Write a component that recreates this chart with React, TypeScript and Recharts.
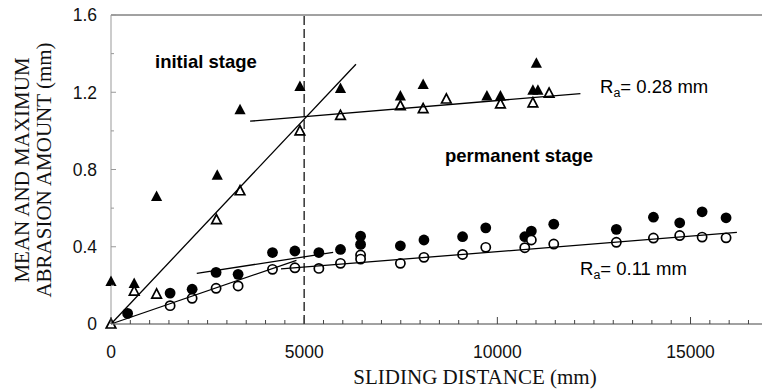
import { ComposedChart, Scatter, XAxis, YAxis, ReferenceLine } from 'recharts';

// filled triangles: maximum abrasion, Ra = 0.28 mm
const maxRough = [
  { x: 0, y: 0.22 }, { x: 600, y: 0.21 }, { x: 1180, y: 0.66 }, { x: 2750, y: 0.77 },
  { x: 3340, y: 1.11 }, { x: 4890, y: 1.23 }, { x: 5940, y: 1.22 }, { x: 7490, y: 1.18 },
  { x: 8080, y: 1.24 }, { x: 9730, y: 1.18 }, { x: 10080, y: 1.18 }, { x: 10920, y: 1.21 },
  { x: 11050, y: 1.21 }, { x: 11010, y: 1.35 },
];

// open triangles: mean abrasion, Ra = 0.28 mm
const meanRough = [
  { x: 0, y: 0 }, { x: 600, y: 0.17 }, { x: 1180, y: 0.155 }, { x: 2730, y: 0.54 },
  { x: 3340, y: 0.69 }, { x: 4890, y: 1.0 }, { x: 5940, y: 1.08 }, { x: 7490, y: 1.13 },
  { x: 8080, y: 1.115 }, { x: 8680, y: 1.165 }, { x: 10080, y: 1.14 }, { x: 10920, y: 1.145 },
  { x: 11340, y: 1.195 },
];

// filled circles: maximum abrasion, Ra = 0.11 mm
const maxSmooth = [
  { x: 430, y: 0.055 }, { x: 1530, y: 0.16 }, { x: 2100, y: 0.18 }, { x: 2720, y: 0.267 },
  { x: 3290, y: 0.257 }, { x: 4180, y: 0.37 }, { x: 4760, y: 0.378 }, { x: 5380, y: 0.37 },
  { x: 5940, y: 0.386 }, { x: 6460, y: 0.455 }, { x: 6460, y: 0.412 }, { x: 7490, y: 0.405 },
  { x: 8100, y: 0.435 }, { x: 9100, y: 0.452 }, { x: 9700, y: 0.498 }, { x: 10710, y: 0.452 },
  { x: 10880, y: 0.481 }, { x: 11460, y: 0.517 }, { x: 13080, y: 0.49 }, { x: 14040, y: 0.553 },
  { x: 14720, y: 0.524 }, { x: 15300, y: 0.581 }, { x: 15920, y: 0.55 },
];

// open circles: mean abrasion, Ra = 0.11 mm
const meanSmooth = [
  { x: 1530, y: 0.095 }, { x: 2100, y: 0.133 }, { x: 2720, y: 0.185 }, { x: 3290, y: 0.197 },
  { x: 4180, y: 0.283 }, { x: 4760, y: 0.291 }, { x: 5380, y: 0.288 }, { x: 5940, y: 0.314 },
  { x: 6460, y: 0.357 }, { x: 6460, y: 0.336 }, { x: 7490, y: 0.314 }, { x: 8100, y: 0.345 },
  { x: 9100, y: 0.36 }, { x: 9700, y: 0.397 }, { x: 10710, y: 0.395 }, { x: 10880, y: 0.435 },
  { x: 11460, y: 0.414 }, { x: 13080, y: 0.423 }, { x: 14040, y: 0.445 }, { x: 14720, y: 0.458 },
  { x: 15300, y: 0.45 }, { x: 15920, y: 0.446 },
];

// fitted lines
const fitRoughInitial = [{ x: 0, y: 0 }, { x: 6340, y: 1.345 }];
const fitRoughPermanent = [{ x: 3600, y: 1.05 }, { x: 12150, y: 1.193 }];
const fitSmoothInitial = [{ x: 0, y: 0 }, { x: 4800, y: 0.33 }];
const fitSmoothPermanent = [{ x: 4400, y: 0.285 }, { x: 16200, y: 0.474 }];
const fitSmoothMax = [{ x: 2220, y: 0.262 }, { x: 5750, y: 0.371 }];

const STAGE_BOUNDARY = 5000;

const X_TICKS = [
  0, 500, 1000, 1500, 2000, 2500, 3000, 3500, 4000, 4500, 5000, 5500, 6000, 6500,
  7000, 7500, 8000, 8500, 9000, 9500, 10000, 10500, 11000, 11500, 12000, 12500,
  13000, 13500, 14000, 14500, 15000, 15500, 16000, 16500,
];
const X_LABELS = [0, 5000, 10000, 15000];
const Y_TICKS = [0, 0.2, 0.4, 0.6, 0.8, 1.0, 1.2, 1.4, 1.6];
const Y_LABELS = [0, 0.4, 0.8, 1.2, 1.6];

const SANS = '"Liberation Sans", Arial, sans-serif';
const SERIF = '"Liberation Serif", "Times New Roman", serif';

function BottomTick({ x, y, payload }: any) {
  const major = X_LABELS.includes(payload.value);
  return (
    <g>
      <line x1={x} x2={x} y1={y} y2={y - (major ? 7 : 4)} stroke="#444" strokeWidth={1} />
      {major && (
        <text x={x} y={y + 34} textAnchor="middle" fontFamily={SANS} fontSize={17.5} fill="#111">
          {payload.value}
        </text>
      )}
    </g>
  );
}

function TopTick({ x, y, payload }: any) {
  const major = X_LABELS.includes(payload.value);
  return <line x1={x} x2={x} y1={major ? y - 5 : y} y2={y + (major ? 7 : 4)} stroke="#444" strokeWidth={1} />;
}

function LeftTick({ x, y, payload }: any) {
  const major = Y_LABELS.includes(payload.value);
  return (
    <g>
      <line x1={x} x2={x + (major ? 5 : 3)} y1={y} y2={y} stroke="#999" strokeWidth={1} />
      {major && (
        <text x={x - 14} y={y + 6.3} textAnchor="end" fontFamily={SANS} fontSize={17.5} fill="#111">
          {payload.value === 0 ? '0' : payload.value.toFixed(1)}
        </text>
      )}
    </g>
  );
}

const FilledTriangle = ({ cx, cy }: any) => (
  <polygon points={`${cx},${cy - 6} ${cx - 5.6},${cy + 4.5} ${cx + 5.6},${cy + 4.5}`} fill="#000" />
);
const OpenTriangle = ({ cx, cy }: any) => (
  <polygon points={`${cx},${cy - 5.2} ${cx - 4.8},${cy + 4} ${cx + 4.8},${cy + 4}`} fill="#fff" stroke="#000" strokeWidth={1.7} />
);
const FilledCircle = ({ cx, cy }: any) => <circle cx={cx} cy={cy} r={5.4} fill="#000" />;
const OpenCircle = ({ cx, cy }: any) => <circle cx={cx} cy={cy} r={4.6} fill="#fff" stroke="#000" strokeWidth={1.7} />;
const NoMarker = () => <g />;

const FITS = [fitRoughInitial, fitRoughPermanent, fitSmoothInitial, fitSmoothPermanent, fitSmoothMax];

export default function App() {
  return (
    <div style={{ position: 'absolute', left: 0, top: 0, width: 763, height: 389, background: '#fff' }}>
      <ComposedChart width={763} height={389} margin={{ top: 14, right: 1, bottom: 35, left: 51 }}>
        <XAxis
          dataKey="x"
          type="number"
          domain={[0, 16850]}
          ticks={X_TICKS}
          interval={0}
          height={30}
          tickSize={0}
          tickMargin={0}
          tickLine={false}
          tick={<BottomTick />}
          axisLine={{ stroke: '#444', strokeWidth: 1 }}
        />
        <XAxis
          xAxisId="top"
          orientation="top"
          dataKey="x"
          type="number"
          domain={[0, 16850]}
          ticks={X_TICKS}
          interval={0}
          height={1}
          tickSize={0}
          tickMargin={0}
          tickLine={false}
          tick={<TopTick />}
          axisLine={{ stroke: '#444', strokeWidth: 1 }}
        />
        <YAxis
          dataKey="y"
          type="number"
          domain={[0, 1.6]}
          ticks={Y_TICKS}
          interval={0}
          width={60}
          tickSize={0}
          tickMargin={0}
          tickLine={false}
          tick={<LeftTick />}
          axisLine={{ stroke: '#999', strokeWidth: 1 }}
        />
        <ReferenceLine x={STAGE_BOUNDARY} stroke="#333" strokeWidth={1.5} strokeDasharray="9 4" />
        <Scatter data={maxSmooth} shape={<FilledCircle />} isAnimationActive={false} />
        <Scatter data={meanSmooth} shape={<OpenCircle />} isAnimationActive={false} />
        <Scatter data={maxRough} shape={<FilledTriangle />} isAnimationActive={false} />
        <Scatter data={meanRough} shape={<OpenTriangle />} isAnimationActive={false} />
        {FITS.map((seg, i) => (
          <Scatter
            key={i}
            data={seg}
            line={{ stroke: '#000', strokeWidth: 1.3 }}
            shape={<NoMarker />}
            isAnimationActive={false}
          />
        ))}
      </ComposedChart>
      <svg width={763} height={389} style={{ position: 'absolute', left: 0, top: 0, pointerEvents: 'none' }}>
        <text x={155} y={68} fontFamily={SANS} fontWeight="bold" fontSize={18.5} fill="#000">initial stage</text>
        <text x={445} y={162} fontFamily={SANS} fontWeight="bold" fontSize={18.5} fill="#000">permanent stage</text>
        <text x={600} y={93} fontFamily={SANS} fontSize={18.5} fill="#000">
          R<tspan dy={4} fontSize={12.5}>a</tspan><tspan dy={-4}>= 0.28 mm</tspan>
        </text>
        <text x={580} y={275} fontFamily={SANS} fontSize={18.5} fill="#000">
          R<tspan dy={4} fontSize={12.5}>a</tspan><tspan dy={-4}>= 0.11 mm</tspan>
        </text>
        <text x={475} y={384} textAnchor="middle" fontFamily={SERIF} fontSize={21} fill="#111">
          SLIDING DISTANCE (mm)
        </text>
        <text transform="translate(29,170) rotate(-90)" textAnchor="middle" fontFamily={SERIF} fontSize={21} fill="#111">
          MEAN AND MAXIMUM
        </text>
        <text transform="translate(51,170) rotate(-90)" textAnchor="middle" fontFamily={SERIF} fontSize={21} fill="#111">
          ABRASION AMOUNT (mm)
        </text>
      </svg>
    </div>
  );
}
